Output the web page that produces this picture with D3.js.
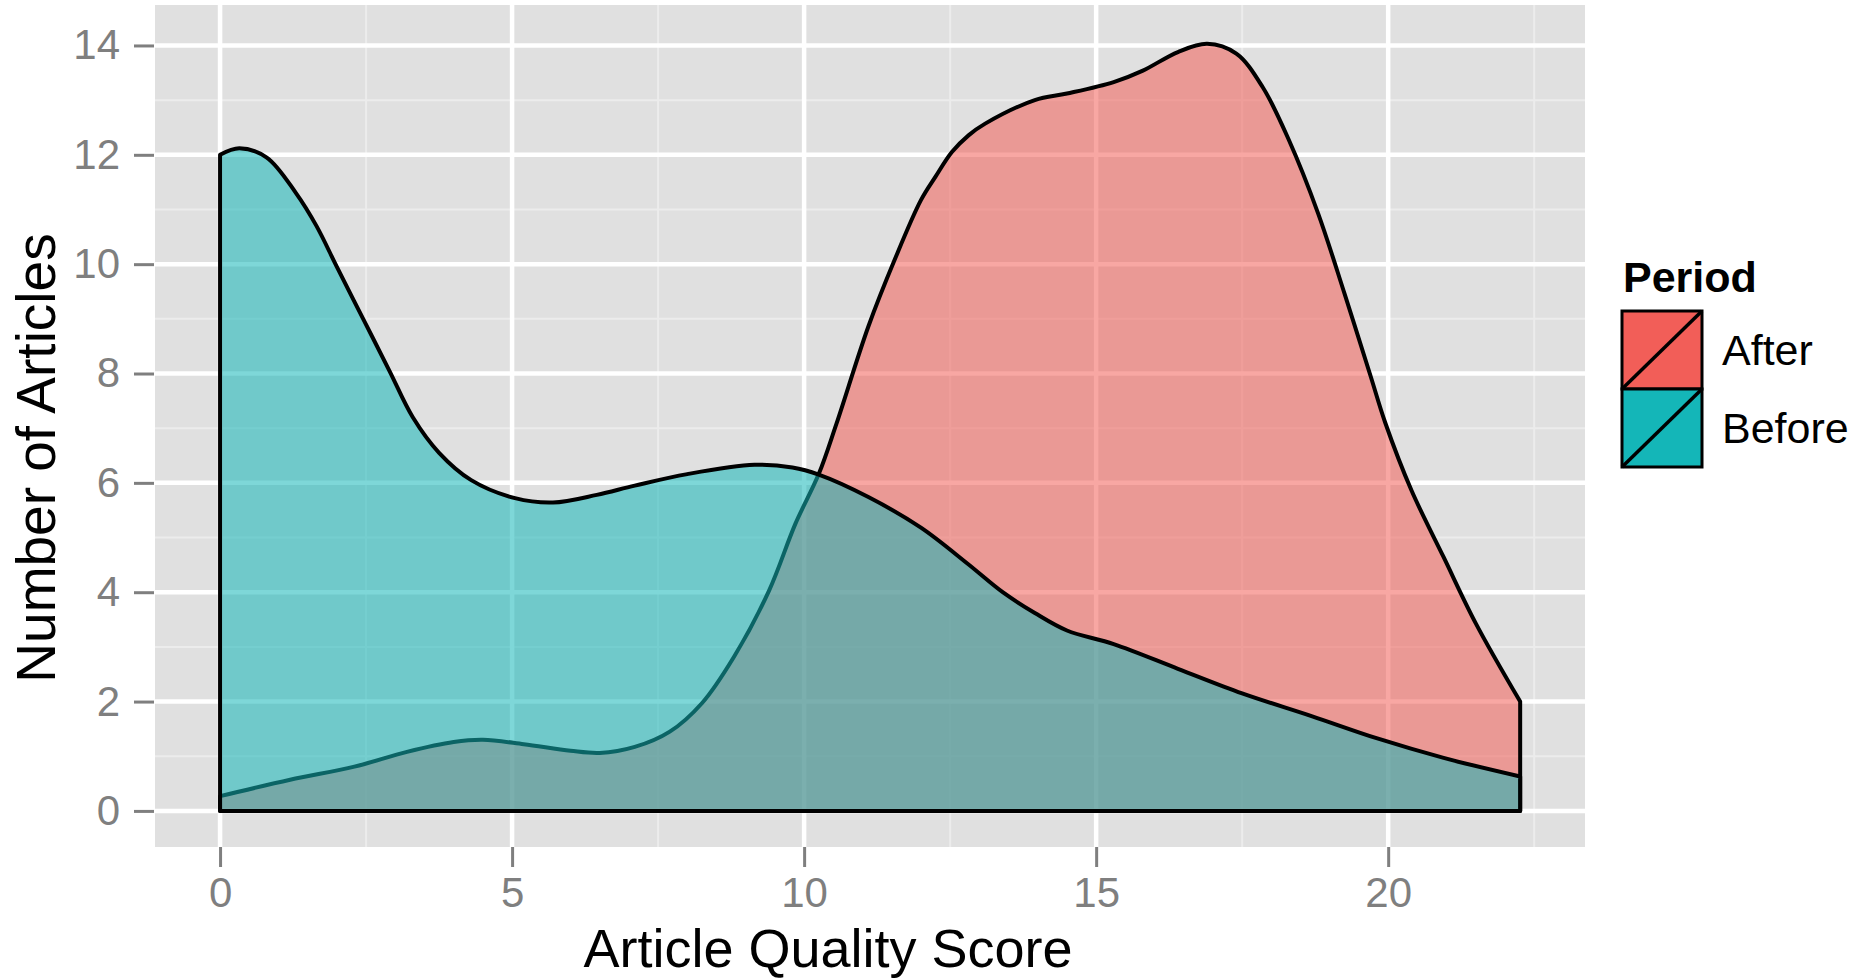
<!DOCTYPE html>
<html>
<head>
<meta charset="utf-8">
<script src="https://cdn.jsdelivr.net/npm/d3@7"></script>
<style>
  body { margin:0; background:#fff; }
  text { font-family: "Liberation Sans", Arial, sans-serif; }
</style>
</head>
<body>
<script>
// values
var periods = ["After", "Before"];
var periodColors = ["#F25E58", "#14B6B8"];

var xTicks = [0, 5, 10, 15, 20];
var xMinor = [2.5, 7.5, 12.5, 17.5, 22.5];
var yTicks = [0, 2, 4, 6, 8, 10, 12, 14];
var yMinor = [1, 3, 5, 7, 9, 11, 13];

var afterX = [0, 1.2, 2.3, 3.2, 4.0, 4.5, 5.2, 6.0, 6.5, 7.1, 7.7, 8.25, 8.8, 9.4, 9.85, 10.25, 10.55, 11.1, 11.55, 12.0, 12.25, 12.53, 12.82, 13.1, 13.95, 14.5, 15.3, 15.8, 16.4, 16.9, 17.4, 17.85, 18.3, 18.8, 19.25, 19.7, 19.95, 20.4, 20.95, 21.5, 22.26];
var afterY = [0.27, 0.57, 0.81, 1.08, 1.26, 1.30, 1.22, 1.10, 1.06, 1.17, 1.45, 1.97, 2.82, 4.03, 5.25, 6.16, 7.07, 8.86, 10.08, 11.17, 11.6, 12.05, 12.36, 12.57, 13.0, 13.12, 13.33, 13.54, 13.88, 14.03, 13.85, 13.24, 12.27, 10.93, 9.47, 7.95, 7.1, 5.86, 4.64, 3.43, 2.0];

var beforeX = [0, 0.33, 0.8, 1.3, 1.65, 2.0, 2.45, 2.9, 3.3, 3.75, 4.3, 5.05, 5.7, 6.45, 7.1, 8.0, 9.15, 9.8, 10.25, 11.1, 12.0, 12.8, 13.4, 13.95, 14.5, 15.3, 16.4, 17.5, 18.7, 19.8, 20.95, 22.26];
var beforeY = [12.0, 12.12, 11.95, 11.3, 10.7, 9.95, 9.0, 8.05, 7.2, 6.55, 6.05, 5.72, 5.64, 5.78, 5.95, 6.16, 6.33, 6.28, 6.15, 5.74, 5.18, 4.52, 4.0, 3.62, 3.3, 3.05, 2.6, 2.15, 1.73, 1.33, 0.97, 0.63];

var W = 1866, H = 980;
var panel = {left:155, right:1585, top:5, bottom:847};

var svg = d3.select("body").append("svg")
    .attr("width", W)
    .attr("height", H);

var x = d3.scaleLinear().domain([-1.114, 23.37]).range([panel.left, panel.right]);
var y = d3.scaleLinear().domain([-0.66, 14.74]).range([panel.bottom, panel.top]);

// panel + grid
svg.append("rect")
    .attr("x", panel.left).attr("y", panel.top)
    .attr("width", panel.right - panel.left)
    .attr("height", panel.bottom - panel.top)
    .attr("fill", "#E0E0E0");

var grid = svg.append("g");
grid.selectAll(".ymin").data(yMinor).enter().append("line")
    .attr("x1", panel.left).attr("x2", panel.right)
    .attr("y1", function(d){ return y(d); }).attr("y2", function(d){ return y(d); })
    .attr("stroke", "#ECECEC").attr("stroke-width", 2);
grid.selectAll(".xmin").data(xMinor).enter().append("line")
    .attr("y1", panel.top).attr("y2", panel.bottom)
    .attr("x1", function(d){ return x(d); }).attr("x2", function(d){ return x(d); })
    .attr("stroke", "#ECECEC").attr("stroke-width", 2);
grid.selectAll(".ymaj").data(yTicks).enter().append("line")
    .attr("x1", panel.left).attr("x2", panel.right)
    .attr("y1", function(d){ return y(d); }).attr("y2", function(d){ return y(d); })
    .attr("stroke", "#fff").attr("stroke-width", 4.5);
grid.selectAll(".xmaj").data(xTicks).enter().append("line")
    .attr("y1", panel.top).attr("y2", panel.bottom)
    .attr("x1", function(d){ return x(d); }).attr("x2", function(d){ return x(d); })
    .attr("stroke", "#fff").attr("stroke-width", 4.5);

// density areas, After first, Before drawn over it
var area = d3.area()
    .x(function(d){ return x(d[0]); })
    .y0(y(0))
    .y1(function(d){ return y(d[1]); })
    .curve(d3.curveCatmullRom.alpha(0.5));

var series = [
  d3.zip(afterX, afterY),
  d3.zip(beforeX, beforeY)
];

series.forEach(function(pts, i){
  svg.append("path")
      .datum(pts)
      .attr("d", function(d){ return area(d) + "Z"; })
      .attr("fill", periodColors[i])
      .attr("fill-opacity", 0.55)
      .attr("stroke", "#000")
      .attr("stroke-width", 4)
      .attr("stroke-linejoin", "round");
});

// axes
var xAxis = svg.append("g")
    .attr("transform", "translate(0," + panel.bottom + ")")
    .call(d3.axisBottom(x).tickValues(xTicks).tickSize(20).tickPadding(10));
var yAxis = svg.append("g")
    .attr("transform", "translate(" + (panel.left - 1) + ",0)")
    .call(d3.axisLeft(y).tickValues(yTicks).tickSize(20).tickPadding(14));

[xAxis, yAxis].forEach(function(a){
  a.select(".domain").remove();
  a.selectAll(".tick line").attr("stroke", "#7F7F7F").attr("stroke-width", 3);
  a.selectAll(".tick text")
      .attr("fill", "#7F7F7F")
      .style("font-size", "42px")
      .style("font-family", "Liberation Sans, Arial, sans-serif");
});
xAxis.selectAll(".tick text").attr("dy", "0.72em");

// axis titles
svg.append("text")
    .attr("x", 828).attr("y", 967)
    .attr("text-anchor", "middle")
    .style("font-size", "54px")
    .text("Article Quality Score");

svg.append("text")
    .attr("transform", "translate(55,458) rotate(-90)")
    .attr("text-anchor", "middle")
    .style("font-size", "55px")
    .text("Number of Articles");

// legend
var legend = svg.append("g");
legend.append("text")
    .attr("x", 1623).attr("y", 292)
    .style("font-size", "43px")
    .style("font-weight", "bold")
    .text("Period");

var keyW = 80, keyH = 78, keyTop = 311;
periods.forEach(function(p, i){
  var ky = keyTop + i * keyH;
  legend.append("rect")
      .attr("x", 1622).attr("y", ky)
      .attr("width", keyW).attr("height", keyH)
      .attr("fill", periodColors[i])
      .attr("stroke", "#000").attr("stroke-width", 3);
  legend.append("line")
      .attr("x1", 1622).attr("y1", ky + keyH)
      .attr("x2", 1622 + keyW).attr("y2", ky)
      .attr("stroke", "#000").attr("stroke-width", 3.5);
  legend.append("text")
      .attr("x", 1722).attr("y", ky + keyH / 2)
      .attr("dy", "0.36em")
      .style("font-size", "43px")
      .text(p);
});
</script>
</body>
</html>
